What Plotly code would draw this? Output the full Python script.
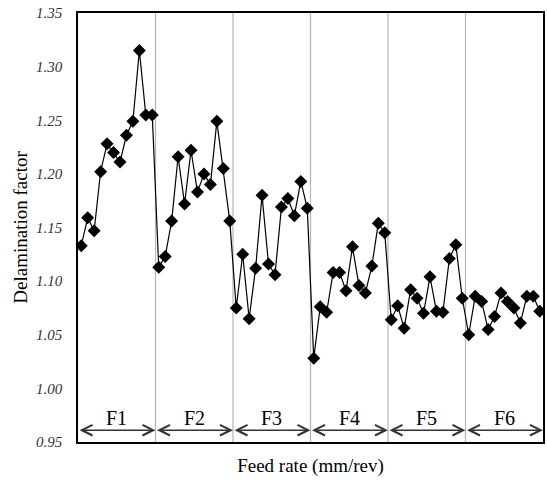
import plotly.graph_objects as go

groups = ["F1", "F2", "F3", "F4", "F5", "F6"]
per_group = 12
f1 = [1.133, 1.159, 1.147, 1.202, 1.228, 1.220, 1.211, 1.236, 1.249, 1.315, 1.255, 1.255]
f2 = [1.113, 1.123, 1.156, 1.216, 1.172, 1.222, 1.183, 1.200, 1.190, 1.249, 1.205, 1.156]
f3 = [1.075, 1.125, 1.065, 1.112, 1.180, 1.116, 1.106, 1.169, 1.177, 1.161, 1.193, 1.168]
f4 = [1.028, 1.076, 1.071, 1.108, 1.108, 1.091, 1.132, 1.096, 1.089, 1.114, 1.154, 1.145]
f5 = [1.064, 1.077, 1.056, 1.092, 1.084, 1.070, 1.104, 1.072, 1.071, 1.121, 1.134, 1.084]
f6 = [1.050, 1.086, 1.081, 1.055, 1.067, 1.089, 1.081, 1.075, 1.061, 1.086, 1.086, 1.072]
y_ticks = [0.95, 1.00, 1.05, 1.10, 1.15, 1.20, 1.25, 1.30, 1.35]

values = f1 + f2 + f3 + f4 + f5 + f6
xs = list(range(len(values)))

FONT = "Liberation Serif, Times New Roman, DejaVu Serif, serif"

fig = go.Figure()
fig.add_trace(go.Scatter(
    x=xs, y=values, mode="lines+markers",
    line=dict(color="black", width=1.2),
    marker=dict(symbol="diamond", size=10, color="black"),
    showlegend=False, hoverinfo="skip"))

shapes = []
annotations = []
n = len(groups)
arrow_y = 0.961
label_y = 0.972
for i, g in enumerate(groups):
    x0 = i * per_group - 0.5
    x1 = (i + 1) * per_group - 0.5
    if i < n - 1:
        shapes.append(dict(type="line", xref="x", yref="y", x0=x1, x1=x1,
                           y0=y_ticks[0], y1=y_ticks[-1],
                           line=dict(color="#b4b4b4", width=1.2), layer="below"))
    annotations.append(dict(x=x1, y=arrow_y, ax=x0, ay=arrow_y, xref="x", yref="y",
                            axref="x", ayref="y", showarrow=True, arrowside="end+start",
                            arrowhead=5, arrowsize=1.4, arrowwidth=1.5, arrowcolor="#333",
                            text=""))
    annotations.append(dict(x=(x0 + x1) / 2, y=label_y, xref="x", yref="y",
                            text=g, showarrow=False,
                            font=dict(family=FONT, size=20, color="black")))

fig.update_layout(
    width=547, height=480,
    margin=dict(l=78, r=2, t=13, b=38),
    paper_bgcolor="white", plot_bgcolor="white",
    shapes=shapes, annotations=annotations,
    font=dict(family=FONT, color="black"),
    xaxis=dict(range=[-0.5, len(values) - 0.5], showticklabels=False, ticks="",
               showgrid=False, zeroline=False, showline=True, linecolor="black",
               linewidth=1.5, mirror=True,
               title=dict(text="Feed rate (mm/rev)", font=dict(family=FONT, size=19),
                          standoff=16)),
    yaxis=dict(range=[y_ticks[0], y_ticks[-1]], tickvals=y_ticks,
               ticktext=[f"{v:.2f}" for v in y_ticks], ticks="",
               ticklabelstandoff=11,
               tickfont=dict(family=FONT, size=15, style="italic", color="#333"),
               showgrid=False, zeroline=False, showline=True, linecolor="black",
               linewidth=1.5, mirror=True,
               title=dict(text="Delamination factor", font=dict(family=FONT, size=19),
                          standoff=3)),
)

fig.write_html("out.html", config={"displayModeBar": False},
               post_script="document.body.style.margin='0';document.body.style.overflow='hidden';")
